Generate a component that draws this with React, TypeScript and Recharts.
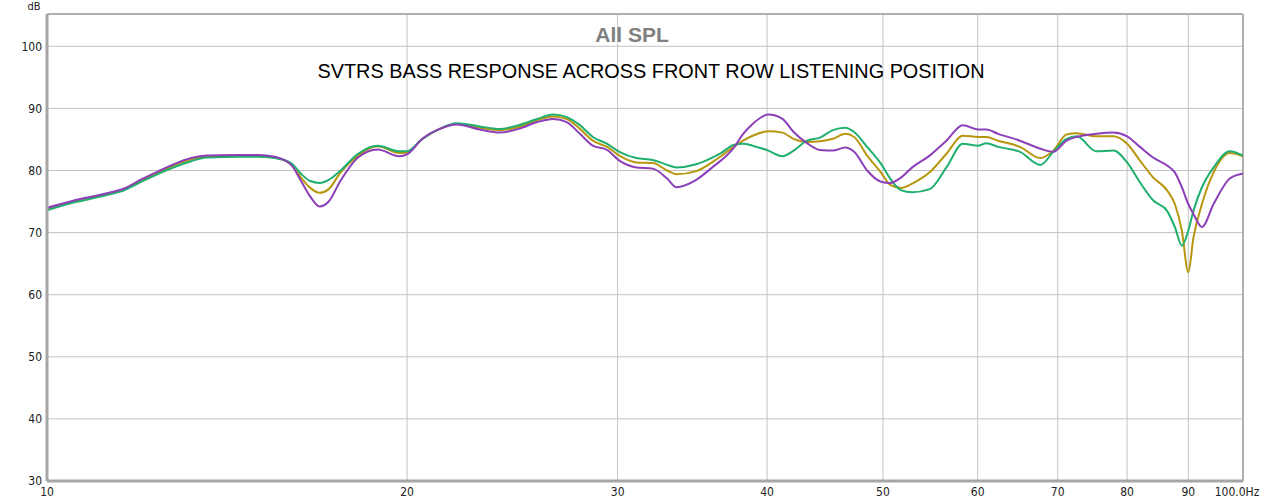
import React from 'react'
import {
  LineChart,
  Line,
  XAxis,
  YAxis,
  CartesianGrid,
  ReferenceLine
} from 'recharts'

// frequencies in Hz (log axis)
const freqs = [
  10, 10.5, 11.2, 11.6, 12.0, 12.4, 12.8, 13.2, 13.6, 14.5, 15.0, 15.5, 16.0,
  16.3, 16.6, 16.9, 17.2, 17.6, 18.2, 18.9, 19.7, 20.0, 20.6, 21.3, 22.0, 23.0,
  23.9, 24.8, 25.7, 26.5, 27.2, 27.9, 28.6, 29.4, 30.1, 31.1, 32.1, 33.0, 33.6,
  34.9, 36.1, 36.6, 37.5, 38.2, 38.9, 40.1, 41.2, 42.1, 43.2, 44.3, 45.4, 46.5,
  47.3, 48.5, 49.8, 50.7, 51.8, 52.9, 54.7, 56.5, 58.3, 60.1, 61.0, 62.4, 65.1,
  67.7, 69.4, 71.2, 72.6, 75.4, 77.9, 80.0, 82.0, 84.1, 86.4, 87.7, 88.9, 90.0,
  90.9, 92.4, 94.5, 97.5, 100
]

// SPL in dB for each measurement position
const goldSpl = [
  73.8, 75.0, 76.2, 77.0, 78.4, 79.7, 80.9, 81.8, 82.3, 82.4, 82.4, 82.1, 81.0,
  78.9, 77.2, 76.4, 77.0, 79.7, 82.4, 83.9, 82.8, 82.9, 85.1, 86.7, 87.5, 86.9,
  86.5, 87.0, 88.1, 88.7, 88.3, 86.7, 84.8, 83.8, 82.4, 81.3, 81.2, 80.0, 79.4,
  79.9, 81.5, 82.3, 83.8, 84.8, 85.6, 86.3, 86.1, 85.1, 84.6, 84.7, 85.1, 85.9,
  85.4, 82.4, 79.7, 77.7, 77.2, 77.9, 79.7, 82.7, 85.6, 85.4, 85.4, 84.8, 83.8,
  82.0, 83.2, 85.8, 86.0, 85.5, 85.5, 84.3, 81.6, 78.9, 76.8, 74.6, 70.3, 63.6,
  69.2, 74.6, 79.7, 82.8, 82.3
]

const greenSpl = [
  73.6, 74.8, 76.0, 76.8, 78.2, 79.5, 80.6, 81.5, 82.1, 82.2, 82.2, 82.0, 81.2,
  79.5, 78.3, 78.0, 78.5, 80.0, 82.7, 84.0, 83.1, 83.1, 85.1, 86.7, 87.6, 87.1,
  86.7, 87.3, 88.3, 89.0, 88.6, 87.3, 85.4, 84.3, 83.0, 82.0, 81.7, 80.9, 80.5,
  81.0, 82.2, 82.8, 84.1, 84.3, 84.0, 83.2, 82.3, 83.2, 84.8, 85.3, 86.5, 86.9,
  86.2, 83.8, 81.1, 78.7, 76.8, 76.5, 77.0, 80.5, 84.3, 84.0, 84.4, 83.8, 83.0,
  80.9, 83.0, 85.1, 85.5, 83.1, 83.2, 81.3, 78.1, 75.2, 73.5, 70.9, 67.9, 70.3,
  73.5, 77.3, 80.5, 83.1, 82.4
]

const purpleSpl = [
  74.0, 75.1, 76.3, 77.1, 78.6, 79.9, 81.1, 82.0, 82.4, 82.5, 82.5, 82.2, 80.9,
  78.4, 75.8, 74.2, 75.0, 78.4, 82.1, 83.4, 82.3, 82.6, 85.1, 86.7, 87.4, 86.6,
  86.1, 86.7, 87.8, 88.3, 87.8, 85.9, 84.0, 83.3, 81.6, 80.5, 80.3, 78.7, 77.3,
  78.5, 80.7, 81.6, 83.6, 85.9, 87.5, 89.0, 88.3, 86.2, 84.4, 83.3, 83.2, 83.7,
  83.0, 80.0, 78.2, 78.0, 78.9, 80.5, 82.4, 84.8, 87.3, 86.6, 86.6, 85.9, 84.8,
  83.5, 83.0, 84.8, 85.4, 85.9, 86.1, 85.5, 83.8, 82.1, 80.8, 79.7, 77.3, 74.6,
  73.0, 70.9, 74.6, 78.7, 79.5
]

const xTicks = [10, 20, 30, 40, 50, 60, 70, 80, 90, 100]
const yTicks = [30, 40, 50, 60, 70, 80, 90, 100]
const yTop = 105.2

const data = freqs.map((f, i) => ({
  f,
  gold: goldSpl[i],
  green: greenSpl[i],
  purple: purpleSpl[i]
}))

const tickFont = "'Liberation Sans Narrow', 'DejaVu Sans Condensed', 'Liberation Sans', sans-serif"
const titleFont = "'Liberation Sans', Arial, sans-serif"

const FreqTick = (props: any) => {
  const { x, y, payload } = props
  const v = payload.value
  return (
    <text
      x={x}
      y={y}
      dy='0.71em'
      dx={v === 100 ? -6 : 0}
      textAnchor='middle'
      fontSize={12}
      fontFamily={tickFont}
      fill='#222'
    >
      {v === 100 ? '100.0Hz' : String(v)}
    </text>
  )
}

export default function App() {
  return (
    <div style={{ position: 'absolute', left: 0, top: 0, width: 1265, height: 503, background: '#fff' }}>
      <LineChart
        width={1265}
        height={503}
        data={data}
        margin={{ top: 14, right: 22, left: 7, bottom: 0 }}
      >
        <CartesianGrid stroke='#c2c2c2' strokeWidth={1} />
        <XAxis
          dataKey='f'
          type='number'
          scale='log'
          domain={[10, 100]}
          ticks={xTicks}
          interval={0}
          allowDataOverflow
          height={22}
          tickLine={false}
          tickSize={3}
          tickMargin={3}
          axisLine={{ stroke: '#a6a6a6', strokeWidth: 3 }}
          tick={<FreqTick />}
        />
        <YAxis
          type='number'
          domain={[30, yTop]}
          ticks={yTicks}
          interval={0}
          allowDataOverflow
          width={40}
          tickLine={false}
          tickSize={3}
          tickMargin={2}
          axisLine={{ stroke: '#a6a6a6', strokeWidth: 3 }}
          tick={{ fontSize: 12, fill: '#222', fontFamily: tickFont }}
        />
        <ReferenceLine y={yTop} stroke='#b0b0b0' strokeWidth={2} />
        <ReferenceLine x={100} stroke='#b0b0b0' strokeWidth={2} />
        <Line
          type='monotone'
          dataKey='gold'
          stroke='#b8960f'
          strokeWidth={2}
          dot={false}
          isAnimationActive={false}
        />
        <Line
          type='monotone'
          dataKey='green'
          stroke='#1faf6e'
          strokeWidth={2}
          dot={false}
          isAnimationActive={false}
        />
        <Line
          type='monotone'
          dataKey='purple'
          stroke='#8c3fb8'
          strokeWidth={2}
          dot={false}
          isAnimationActive={false}
        />
      </LineChart>
      <svg
        width={1265}
        height={503}
        style={{ position: 'absolute', left: 0, top: 0, pointerEvents: 'none' }}
      >
        <text x={34} y={10} textAnchor='middle' fontSize={11} fontFamily={tickFont} fill='#222'>
          dB
        </text>
        <text x={632} y={42} textAnchor='middle' fontSize={21} fontWeight='bold' fontFamily={titleFont} fill='#808080'>
          All SPL
        </text>
        <text
          x={651}
          y={78}
          textAnchor='middle'
          fontSize={20}
          fontFamily={titleFont}
          fill='#000'
          textLength={667}
          lengthAdjust='spacingAndGlyphs'
        >
          SVTRS BASS RESPONSE ACROSS FRONT ROW LISTENING POSITION
        </text>
      </svg>
    </div>
  )
}
